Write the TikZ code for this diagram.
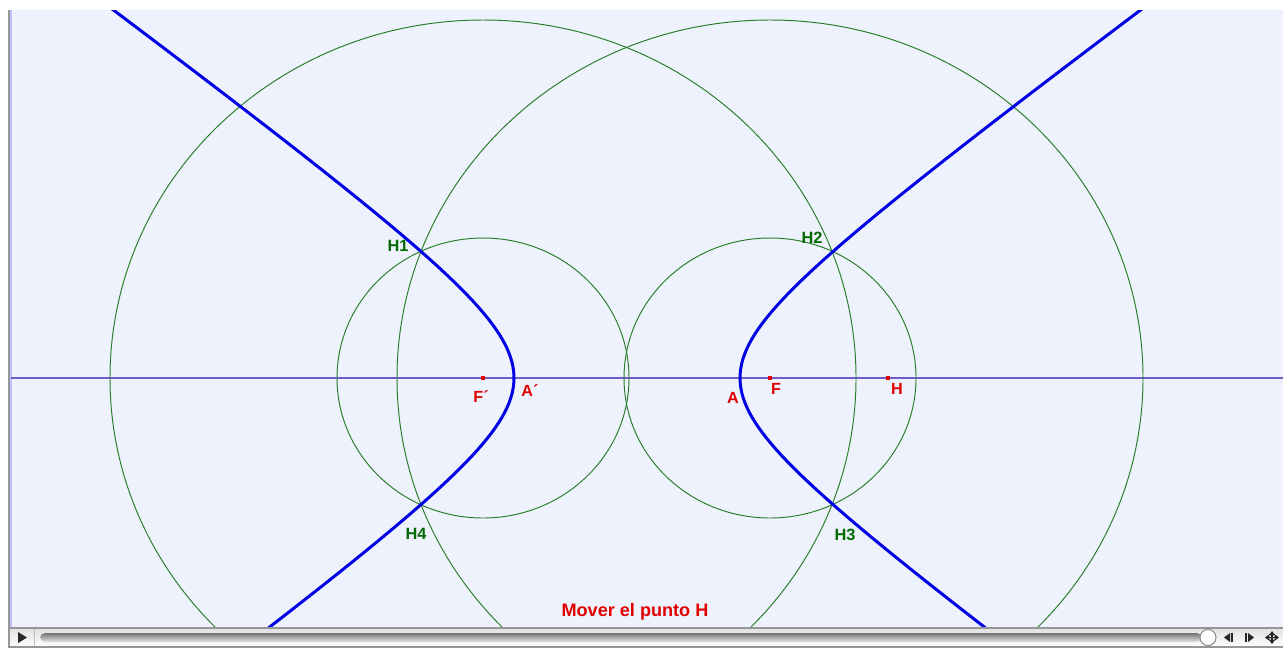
\documentclass[tikz,border=0pt]{standalone}
\usepackage{fontspec}
\setmainfont{Liberation Sans}
\usepackage{tikz}
\usetikzlibrary{arrows.meta}

\definecolor{canvas}{RGB}{238,242,252}
\definecolor{hypblue}{RGB}{0,0,228}
\definecolor{circgreen}{RGB}{40,125,40}
\definecolor{axispurple}{RGB}{112,92,200}
\definecolor{ptred}{RGB}{225,0,0}
\definecolor{labgreen}{RGB}{0,105,0}
\definecolor{barline}{RGB}{150,150,150}

\begin{document}
\begin{tikzpicture}[
  x=0.02cm, y=-0.02cm,
  circ/.style={draw=circgreen, line width=0.55pt},
  hyp/.style={draw=hypblue, line width=1.7pt, line join=round},
  axisline/.style={draw=axispurple, line width=0.8pt},
  pt/.style={fill=ptred, minimum size=2.3pt, inner sep=0pt},
  redlab/.style={text=ptred, inner sep=0pt, font=\fontsize{9.2}{10}\selectfont\bfseries},
  greenlab/.style={text=labgreen, inner sep=0pt, font=\fontsize{9.3}{10}\selectfont\bfseries},
  icon/.style={fill=black!85, draw=none}
]
\useasboundingbox (0,0) rectangle (1283,650);
% frame and drawing area
\fill[white] (0,0) rectangle (1283,650);
\fill[canvas] (9,10) rectangle (1283,628);
\draw[barline, line width=0.9pt] (9,10) -- (9,648);
\draw[blue!25, line width=0.6pt] (11,10) -- (11,628);

% points on the axis
\coordinate (axL) at (11,378);
\coordinate (axR) at (1283,378);
\node[pt] (Fp) at (483,378) {};
\node[pt] (F) at (770,378) {};
\node[pt] (H) at (888,378) {};
\coordinate (Ap) at (514,378);
\coordinate (A) at (740,378);

\begin{scope}
\clip (11,10) rectangle (1283,628);
\draw[axisline] (axL) -- (axR);
% circles round the foci
\draw[circ] (Fp) circle[x radius=146, y radius=140];
\draw[circ] (F) circle[x radius=146, y radius=140];
\draw[circ] (Fp) circle[x radius=373, y radius=358];
\draw[circ] (F) circle[x radius=373, y radius=358];
% the two branches
\draw[hyp] plot[domain=-2.4:2.4, samples=90, variable=\t]
  ({627+113*cosh(\t)}, {378+83*sinh(\t)});
\draw[hyp] plot[domain=-2.4:2.4, samples=90, variable=\t]
  ({627-113*cosh(\t)}, {378+83*sinh(\t)});
\end{scope}
\node[pt] at (Fp) {};
\node[pt] at (F) {};
\node[pt] at (H) {};

% labels
\node[redlab] (labFp) at (481,397) {F´};
\node[redlab] (labAp) at (530,391) {A´};
\node[redlab] (labA) at (733,398) {A};
\node[redlab] (labF) at (776,389) {F};
\node[redlab] (labH) at (897,389) {H};
\node[greenlab] (labH1) at (398,246) {H1};
\node[greenlab] (labH2) at (812,238) {H2};
\node[greenlab] (labH3) at (845,535) {H3};
\node[greenlab] (labH4) at (416,534) {H4};
\node[redlab, font=\fontsize{10.3}{11}\selectfont\bfseries] (caption) at (635,612)
  {Mover el punto H};

% slider bar
\shade[top color=black!12, bottom color=white] (10,628) rectangle (1283,647);
\draw[barline, line width=0.8pt] (10,628) -- (1283,628);
\draw[barline, line width=0.8pt] (10,647) -- (1283,647);
\draw[black!25, line width=0.5pt] (34,629) -- (34,646);
\fill[icon] (18,632) -- (27,637.5) -- (18,643) -- cycle;
\shade[top color=black!55, bottom color=black!10, rounded corners=3pt]
  (40,633) rectangle (1202,642);
\draw[black!45, fill=white, line width=0.6pt] (1208,637.5) circle[radius=8];
\fill[icon] (1230,633) -- (1224,637.5) -- (1230,642) -- cycle;
\fill[icon] (1231,633) rectangle (1233,642);
\fill[icon] (1245,633) rectangle (1247,642);
\fill[icon] (1248,633) -- (1254,637.5) -- (1248,642) -- cycle;
\draw[black!85, line width=0.9pt, -{Triangle[length=2.5pt,width=3.5pt]}] (1272,637.5) -- (1265,637.5);
\draw[black!85, line width=0.9pt, -{Triangle[length=2.5pt,width=3.5pt]}] (1272,637.5) -- (1279,637.5);
\draw[black!85, line width=0.9pt, -{Triangle[length=2.5pt,width=3.5pt]}] (1272,637.5) -- (1272,631);
\draw[black!85, line width=0.9pt, -{Triangle[length=2.5pt,width=3.5pt]}] (1272,637.5) -- (1272,644);
\end{tikzpicture}
\end{document}
